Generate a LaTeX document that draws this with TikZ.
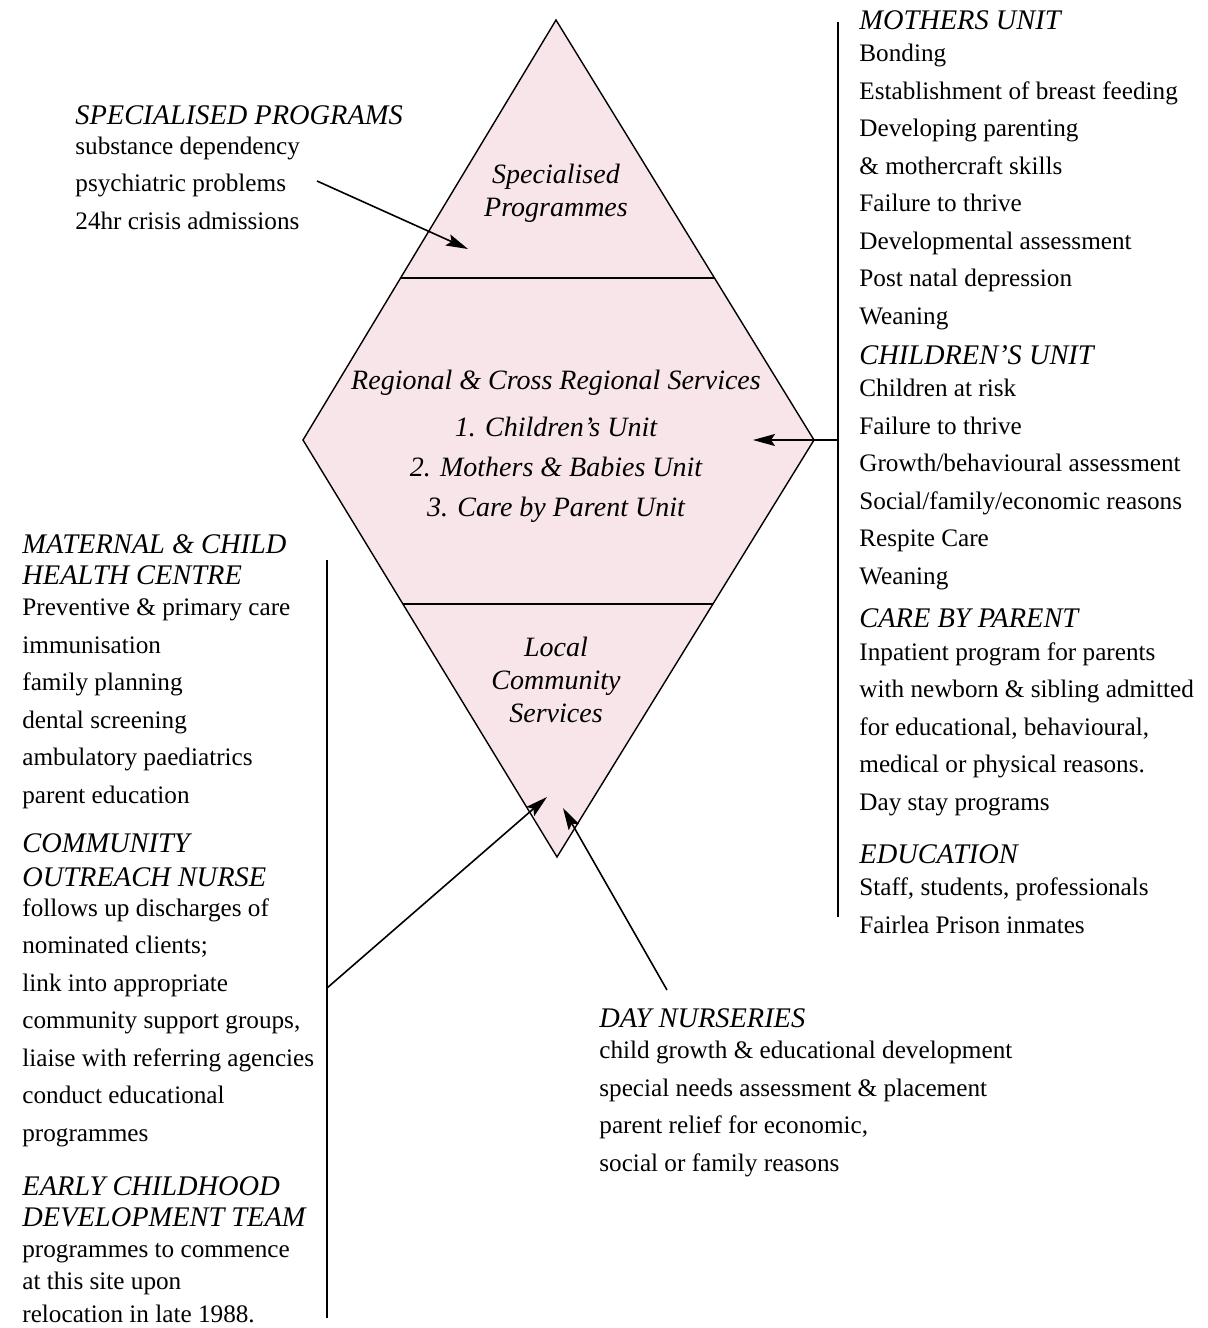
\documentclass[tikz,border=0pt]{standalone}
\usepackage{fontspec}
\setmainfont{Liberation Serif}
\usetikzlibrary{arrows.meta, positioning, calc}
\usepackage{xcolor}
\definecolor{tierpink}{RGB}{248,229,233}

\newcommand{\hd}[1]{{\fontsize{14.2pt}{15.5pt}\selectfont\itshape #1}}

\begin{document}
\begin{tikzpicture}[
  x=0.5pt, y=-0.5pt,
  txtblock/.style={anchor=base west, align=left, inner sep=0pt, font=\fontsize{12.6pt}{18.75pt}\selectfont},
  tierlabel/.style={anchor=base, align=center, inner sep=0pt, font=\fontsize{14pt}{16.5pt}\selectfont\itshape},
  arr/.style={-{Stealth[length=11pt, width=6pt, inset=2pt]}, line width=0.8pt},
  bar/.style={line width=1pt}
]
\useasboundingbox (0,0) rectangle (1208,1328);
% diamond
\coordinate (top) at (556,20);
\coordinate (lft) at (303,440);
\coordinate (rgt) at (814,440);
\coordinate (bot) at (557,857);
\fill[tierpink] (top) -- (rgt) -- (bot) -- (lft) -- cycle;
\draw[line width=0.7pt] (top) -- (rgt) -- (bot) -- (lft) -- cycle;
\draw[line width=0.7pt] ($(top)!0.614!(lft)$) -- ($(top)!0.614!(rgt)$);
\draw[line width=0.7pt] ($(lft)!0.393!(bot)$) -- ($(rgt)!0.393!(bot)$);

% base of a block = baseline of its last line
\node[tierlabel] (tierspec) at (556,216) {Specialised\\ Programmes};
\node[tierlabel, font=\fontsize{14pt}{20pt}\selectfont\itshape] (tierregion) at (556,516)
  {Regional \& Cross Regional Services\\[3.5pt] 1. Children's Unit\\ 2. Mothers \& Babies Unit\\ 3. Care by Parent Unit};
\node[tierlabel] (tierlocal) at (556,722) {Local\\ Community\\ Services};

% left side
\node[txtblock] (specprog) at (75,229) {\hd{SPECIALISED PROGRAMS}\\[-3.75pt]
  substance dependency\\ psychiatric problems\\ 24hr crisis admissions};
\node[txtblock] (maternal) at (22,803) {\hd{MATERNAL \& CHILD}\\[-3.25pt] \hd{HEALTH CENTRE}\\[-3.25pt]
  Preventive \& primary care\\ immunisation\\ family planning\\ dental screening\\ ambulatory paediatrics\\ parent education};
\node[txtblock] (outreach) at (22,1141) {\hd{COMMUNITY}\\[-1.75pt] \hd{OUTREACH NURSE}\\[-3.75pt]
  follows up discharges of\\ nominated clients;\\ link into appropriate\\ community support groups,\\ liaise with referring agencies\\ conduct educational\\ programmes};
\node[txtblock] (earlychild) at (22,1322) {\hd{EARLY CHILDHOOD}\\[-3.25pt] \hd{DEVELOPMENT TEAM}\\[-3.25pt]
  programmes to commence\\[-2.5pt] at this site upon\\[-2.5pt] relocation in late 1988.};

% bottom
\node[txtblock] (daynurs) at (599,1171) {\hd{DAY NURSERIES}\\[-3.25pt]
  child growth \& educational development\\ special needs assessment \& placement\\ parent relief for economic,\\ social or family reasons};

% right side
\node[txtblock] (mothers) at (859,324) {\hd{MOTHERS UNIT}\\[-2.5pt]
  Bonding\\ Establishment of breast feeding\\ Developing parenting\\ \& mothercraft skills\\ Failure to thrive\\ Developmental assessment\\ Post natal depression\\ Weaning};
\node[txtblock] (children) at (859,584) {\hd{CHILDREN'S UNIT}\\[-2.5pt]
  Children at risk\\ Failure to thrive\\ Growth/behavioural assessment\\ Social/family/economic reasons\\ Respite Care\\ Weaning};
\node[txtblock] (careparent) at (859,810) {\hd{CARE BY PARENT}\\[-2.5pt]
  Inpatient program for parents\\ with newborn \& sibling admitted\\ for educational, behavioural,\\ medical or physical reasons.\\ Day stay programs};
\node[txtblock] (education) at (859,933) {\hd{EDUCATION}\\[-2.5pt]
  Staff, students, professionals\\ Fairlea Prison inmates};

% bars and arrows
\coordinate (lbartop) at (327,560);
\coordinate (lbarbot) at (327,1318);
\coordinate (lbarjoin) at (327,988);
\coordinate (rbartop) at (838,22);
\coordinate (rbarbot) at (838,917);
\coordinate (rbarjoin) at (838,440);
\coordinate (spectip) at (468,249);
\coordinate (spectail) at (317,181);
\coordinate (regiontip) at (753,440);
\coordinate (localtipl) at (547,797);
\coordinate (localtipr) at (563,808);
\coordinate (daytail) at (667,990);
\draw[bar] (lbartop) -- (lbarbot);
\draw[bar] (rbartop) -- (rbarbot);
\draw[arr] (spectail) -- (spectip);
\draw[arr] (rbarjoin) -- (regiontip);
\draw[arr] (lbarjoin) -- (localtipl);
\draw[arr] (daytail) -- (localtipr);
\end{tikzpicture}
\end{document}
